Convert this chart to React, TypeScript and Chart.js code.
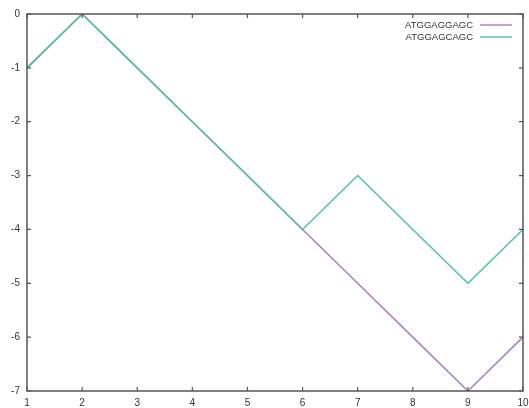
import React, { useEffect, useRef } from "react";
import { Chart, registerables } from "chart.js";

Chart.register(...registerables);

const xValues = [1, 2, 3, 4, 5, 6, 7, 8, 9, 10];
const seriesA = [-1, 0, -1, -2, -3, -4, -5, -6, -7, -6];
const seriesB = [-1, 0, -1, -2, -3, -4, -3, -4, -5, -4];
const seriesNames = ["ATGGAGGAGC", "ATGGAGCAGC"];
const seriesColors = ["#a67fc0", "#55c0a0"];
const xTicks = [1, 2, 3, 4, 5, 6, 7, 8, 9, 10];
const yTicks = [0, -1, -2, -3, -4, -5, -6, -7];

const FONT = "'Liberation Sans', Arial, Helvetica, sans-serif";
const TEXT = "#333333";
const AXIS = "#555555";

const gnuplotFrame = {
  id: "gnuplotFrame",
  afterDatasetsDraw(chart: any) {
    const { ctx, chartArea, scales } = chart;
    const { left, right, top, bottom } = chartArea;
    ctx.save();
    ctx.strokeStyle = AXIS;
    ctx.lineWidth = 1.5;
    ctx.beginPath();
    ctx.rect(left, top, right - left, bottom - top);
    ctx.stroke();
    const tl = 4;
    ctx.lineWidth = 1.2;
    ctx.beginPath();
    for (const v of xTicks) {
      const px = scales.x.getPixelForValue(v);
      ctx.moveTo(px, bottom);
      ctx.lineTo(px, bottom - tl);
      ctx.moveTo(px, top);
      ctx.lineTo(px, top + tl);
    }
    for (const v of yTicks) {
      const py = scales.y.getPixelForValue(v);
      ctx.moveTo(left, py);
      ctx.lineTo(left + tl, py);
      ctx.moveTo(right, py);
      ctx.lineTo(right - tl, py);
    }
    ctx.stroke();

    // legend (gnuplot style, top right)
    ctx.font = `9.5px ${FONT}`;
    ctx.textAlign = "right";
    ctx.textBaseline = "middle";
    seriesNames.forEach((name, i) => {
      const y = top + 11 + i * 12;
      ctx.fillStyle = TEXT;
      ctx.fillText(name, right - 50, y);
      ctx.strokeStyle = seriesColors[i];
      ctx.lineWidth = 1.4;
      ctx.beginPath();
      ctx.moveTo(right - 43, y);
      ctx.lineTo(right - 11, y);
      ctx.stroke();
    });
    ctx.restore();
  },
};

export default function App() {
  const ref = useRef<HTMLCanvasElement>(null);

  useEffect(() => {
    if (!ref.current) return;
    const chart = new Chart(ref.current, {
      type: "line",
      data: {
        datasets: [
          {
            label: seriesNames[0],
            data: xValues.map((x, i) => ({ x, y: seriesA[i] })),
            borderColor: seriesColors[0],
            borderWidth: 1.5,
            pointRadius: 0,
            tension: 0,
            order: 1,
          },
          {
            label: seriesNames[1],
            data: xValues.map((x, i) => ({ x, y: seriesB[i] })),
            borderColor: seriesColors[1],
            borderWidth: 1.5,
            pointRadius: 0,
            tension: 0,
            order: 0,
          },
        ],
      },
      options: {
        animation: false,
        responsive: false,
        layout: { padding: { left: 0, top: 14, right: 6, bottom: 0 } },
        plugins: { legend: { display: false }, tooltip: { enabled: false } },
        scales: {
          x: {
            type: "linear",
            min: 1,
            max: 10,
            grid: { display: false, drawTicks: false },
            border: { display: false },
            afterFit: (s: any) => {
              s.height = 17;
              s.paddingLeft = 0;
              s.paddingRight = 0;
            },
            afterBuildTicks: (s: any) => {
              s.ticks = xTicks.map((v) => ({ value: v }));
            },
            ticks: {
              padding: 6,
              color: TEXT,
              font: { family: FONT, size: 10 },
              maxRotation: 0,
              autoSkip: false,
            },
          },
          y: {
            min: -7,
            max: 0,
            grid: { display: false, drawTicks: false },
            border: { display: false },
            afterFit: (s: any) => {
              s.width = 27;
              s.paddingTop = 0;
              s.paddingBottom = 0;
            },
            afterBuildTicks: (s: any) => {
              s.ticks = yTicks.map((v) => ({ value: v }));
            },
            ticks: {
              padding: 7,
              color: TEXT,
              font: { family: FONT, size: 10 },
              autoSkip: false,
            },
          },
        },
      },
      plugins: [gnuplotFrame],
    } as any);
    return () => chart.destroy();
  }, []);

  return (
    <div style={{ position: "absolute", left: 0, top: 0, width: 529, height: 408, background: "#fff" }}>
      <canvas ref={ref} width={529} height={408} />
    </div>
  );
}
